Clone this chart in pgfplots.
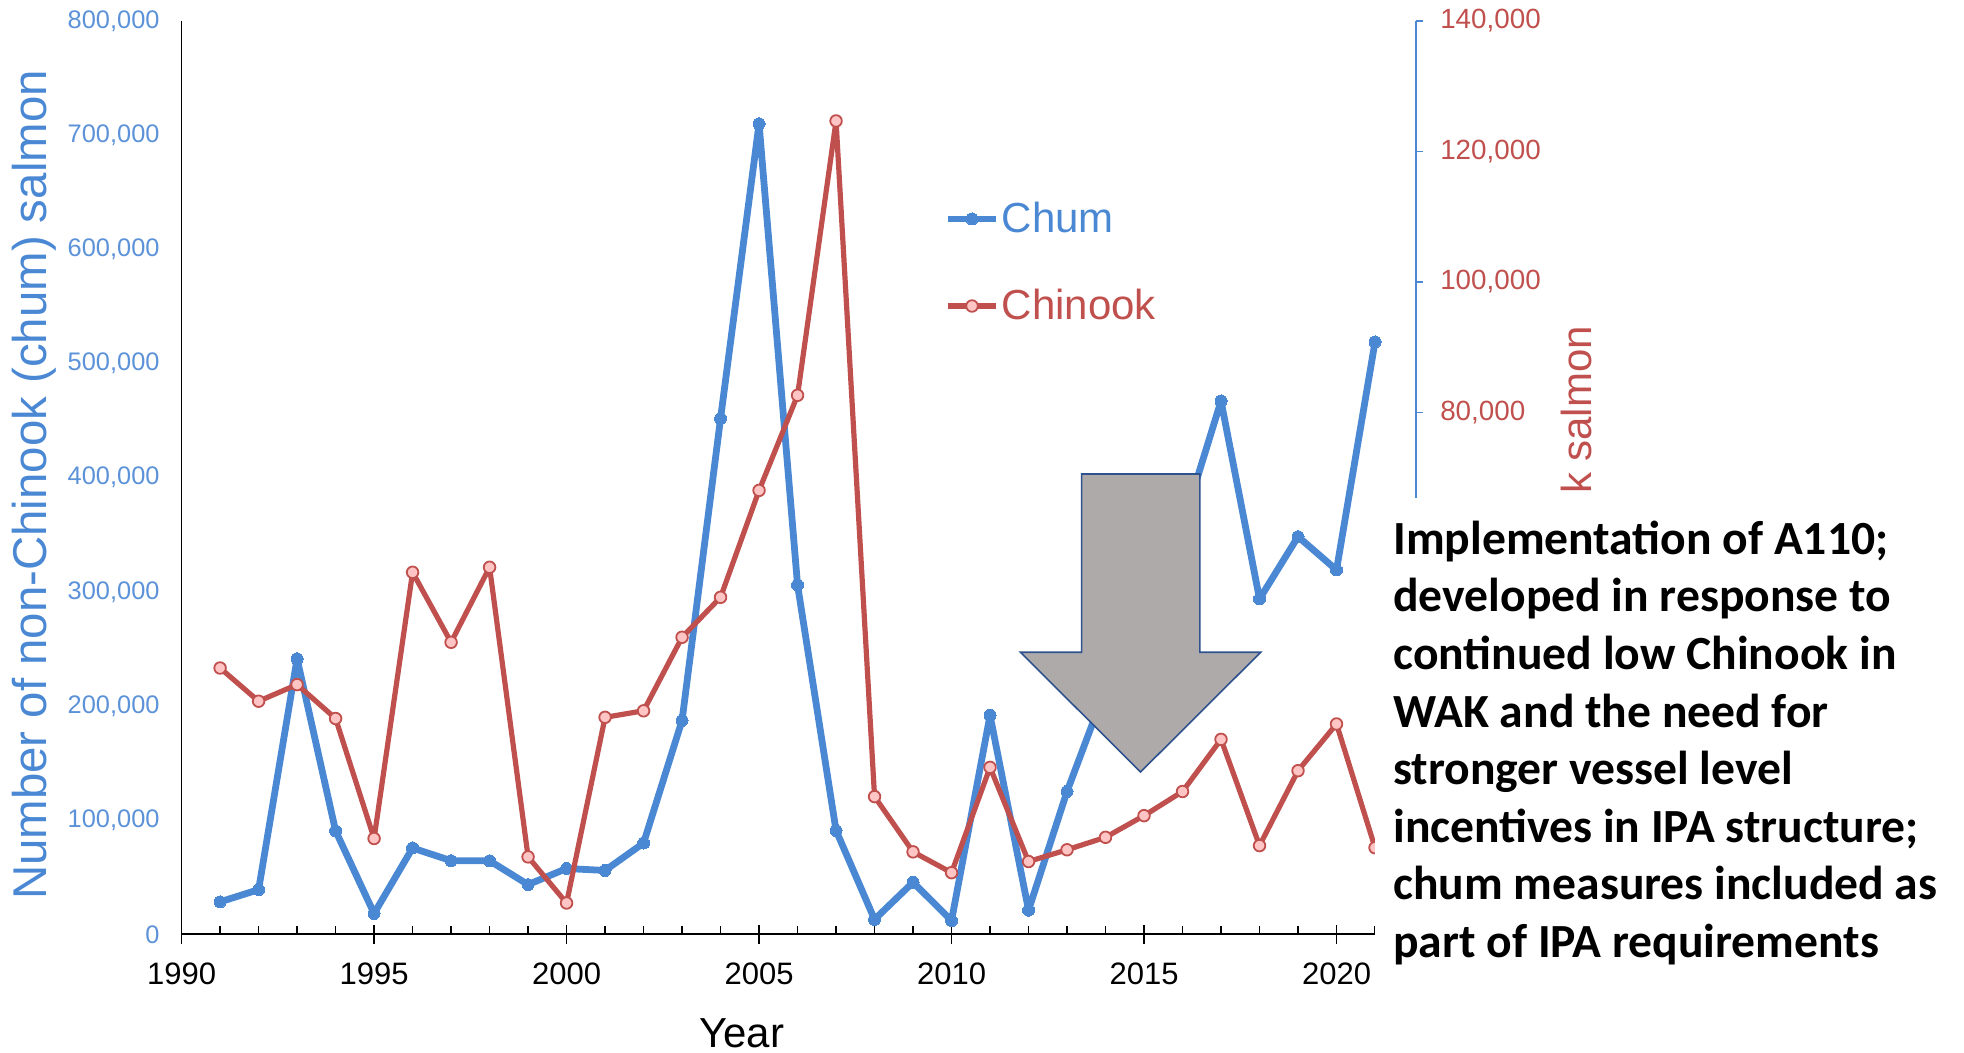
\documentclass[border=0pt]{standalone}
\usepackage{pgfplots}
\pgfplotsset{compat=1.18}
\usepackage{fontspec}
\setmainfont{Liberation Sans}
\newfontfamily\carlito{Carlito}
\definecolor{chumblue}{RGB}{74,136,212}
\definecolor{ticksblue}{RGB}{92,146,216}
\definecolor{chinred}{RGB}{192,80,77}
\definecolor{chinfill}{RGB}{255,196,196}
\definecolor{arrowfill}{RGB}{174,170,170}
\definecolor{arrowedge}{RGB}{47,82,143}

\pgfplotstableread{
year chum
1991 28500
1992 39200
1993 241400
1994 90700
1995 18300
1996 75700
1997 64500
1998 64500
1999 43600
2000 57700
2001 56000
2002 80000
2003 187400
2004 451900
2005 710000
2006 306000
2007 91000
2008 13100
2009 45600
2010 12100
2011 191900
2012 21200
2013 125200
2014 215000
2015 237000
2016 358000
2017 467200
2018 293800
2019 348400
2020 319200
2021 518900
}\chumtable

\pgfplotstableread{
year chinook
1991 40830
1992 35740
1993 38290
1994 33090
1995 14700
1996 55500
1997 44770
1998 56270
1999 11880
2000 4810
2001 33270
2002 34270
2003 45540
2004 51670
2005 68050
2006 82630
2007 124680
2008 21120
2009 12650
2010 9460
2011 25600
2012 11170
2013 12970
2014 14880
2015 18200
2016 21900
2017 29890
2018 13610
2019 25090
2020 32250
2021 13290
}\chinooktable

\begin{document}
\begin{tikzpicture}
\useasboundingbox (-90.8pt,-59.3pt) rectangle (891.2pt,467.2pt);
\begin{axis}[
  scale only axis, width=617.3pt, height=456.7pt,
  xmin=1990, xmax=2022.07, ymin=0, ymax=800000,
  axis x line*=bottom, axis y line*=left,
  axis line style={black, line width=0.9pt, -},
  xtick={1990,1995,2000,2005,2010,2015,2020},
  minor xtick={1991,...,2022},
  /pgf/number format/assume math mode=true,
  xticklabel style={/pgf/number format/fixed, /pgf/number format/1000 sep={}, font=\fontsize{15.5}{18}\selectfont, black, yshift=-5.75pt},
  tick align=center,
  major tick length=9.5pt,
  minor tick length=4pt,
  x tick style={black, line width=0.9pt},
  minor x tick style={yshift=2pt},
  ytick={0,100000,...,800000},
  scaled y ticks=false,
  yticklabel style={/pgf/number format/fixed, /pgf/number format/1000 sep={,}, font=\fontsize{12.7}{15}\selectfont, color=ticksblue, xshift=-2.75pt},
  y tick style={draw=none},
  xlabel={Year},
  xlabel style={at={(axis description cs:0.4537,0)}, anchor=center, yshift=-49.5pt, font=\fontsize{21}{25}\selectfont, black},
  ylabel={Number of non-Chinook (chum) salmon},
  ylabel style={at={(axis description cs:0,0.492)}, anchor=center, yshift=73.8pt, font=\fontsize{23.7}{28}\selectfont, color=chumblue},
  clip=false,
]
\addplot[chumblue, line width=3.4pt, line join=round, mark=*, mark size=3pt, mark options={fill=chumblue, draw=chumblue, line width=0pt}] table[x=year, y=chum] {\chumtable};
\end{axis}
\begin{axis}[
  scale only axis, width=617.3pt, height=456.7pt,
  xmin=1990, xmax=2022.07, ymin=0, ymax=140000,
  axis x line=none, axis y line*=right,
  axis line style={chumblue, line width=0.8pt, -},
  ytick={80000,100000,120000,140000},
  scaled y ticks=false,
  /pgf/number format/assume math mode=true,
  yticklabel style={/pgf/number format/fixed, /pgf/number format/1000 sep={,}, font=\fontsize{13.9}{16}\selectfont, color=chinred, xshift=5pt},
  tick align=outside,
  major tick length=3.5pt,
  y tick style={chumblue, line width=0.8pt},
  legend style={at={(0.6178,0.7356)}, anchor=west, draw=none, fill=none,
    font=\fontsize{21}{25}\selectfont, row sep=24.4pt, inner sep=0pt,
    nodes={inner sep=1.2pt}},
  legend cell align=left,
  legend image code/.code={\draw[mark repeat=2,mark phase=2] plot coordinates {(0cm,0cm) (0.42cm,0cm) (0.84cm,0cm)};},
  clip=false,
]
\draw[arrowedge, fill=arrowfill, line width=0.8pt, line join=miter]
  (axis cs:2013.38,70569) -- (axis cs:2016.45,70569) -- (axis cs:2016.45,43243)
  -- (axis cs:2018.03,43243) -- (axis cs:2014.91,24892) -- (axis cs:2011.79,43243)
  -- (axis cs:2013.38,43243) -- cycle;
\addlegendimage{chumblue, line width=3.4pt, mark=*, mark size=3pt, mark options={fill=chumblue, draw=chumblue, line width=0pt}}
\addlegendentry{\textcolor{chumblue}{Chum}}
\addplot[chinred, line width=2.6pt, line join=round, mark=*, mark size=2.9pt, mark options={fill=chinfill, draw=chinred, line width=0.9pt}] table[x=year, y=chinook] {\chinooktable};
\addlegendentry{\textcolor{chinred}{Chinook}}
\end{axis}
\fill[white] (596.9pt,-59.3pt) rectangle (891.2pt,218pt);
\node[rotate=90, anchor=west, inner sep=0pt, font=\fontsize{21}{25}\selectfont, text=chinred] at (697.4pt,220pt) {k salmon};
\node[anchor=north west, align=left, inner sep=0pt, font=\carlito\bfseries\fontsize{23.8}{28.8}\selectfont] at (605.7pt,207pt)
{Implementation of A110;\\developed in response to\\continued low Chinook in\\WAK and the need for\\stronger vessel level\\incentives in IPA structure;\\chum measures included as\\part of IPA requirements};
\end{tikzpicture}
\end{document}
